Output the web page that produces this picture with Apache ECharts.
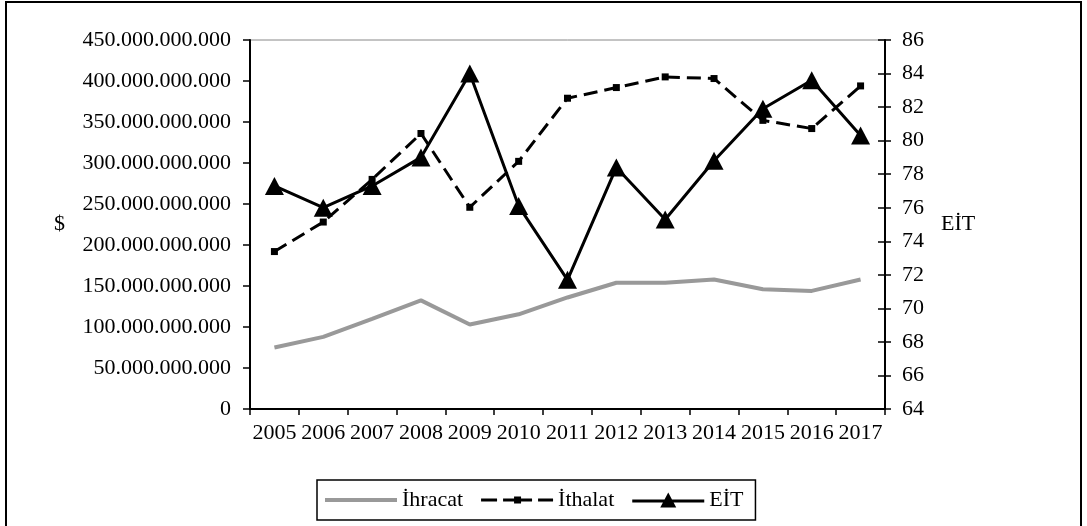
<!DOCTYPE html>
<html>
<head>
<meta charset="utf-8">
<title>İhracat, İthalat ve EİT</title>
<script src="https://cdn.jsdelivr.net/npm/echarts@6/dist/echarts.min.js"></script>
<style>
  html, body { margin: 0; padding: 0; background: #fff; }
  #chart { width: 1087px; height: 526px; }
</style>
</head>
<body>
<div id="chart"></div>
<script>
// values
const years = ['2005', '2006', '2007', '2008', '2009', '2010', '2011', '2012', '2013', '2014', '2015', '2016', '2017']
const ihracat = [75e9, 88e9, 110e9, 132.5e9, 103e9, 115.5e9, 136e9, 154e9, 154e9, 158e9, 146e9, 144e9, 158e9]
const ithalat = [192e9, 228e9, 280e9, 336e9, 246e9, 302e9, 379e9, 392e9, 405e9, 403e9, 352e9, 342e9, 394e9]
const eit = [77.3, 76.0, 77.3, 79.0, 84.0, 76.1, 71.7, 78.4, 75.3, 78.8, 81.9, 83.6, 80.3]

const font = "'Liberation Serif', 'Times New Roman', serif"

// 450000000000 -> 450.000.000.000
function dotted(v) {
  return String(Math.round(v)).replace(/\B(?=(\d{3})+(?!\d))/g, '.')
}

// legend keys drawn like the excel ones (line + small marker)
const iconPlain = 'path://M0,0 L72,0 L72,4 L0,4 Z'
const iconDash = 'path://M0,2 L16,2 L16,5 L0,5 Z M22,2 L33,2 L33,5 L22,5 Z M33,0 L40,0 L40,7 L33,7 Z ' +
  'M40,2 L51,2 L51,5 L40,5 Z M57,2 L72,2 L72,5 L57,5 Z'
const iconTri = 'path://M0,7 L72,7 L72,10 L0,10 Z M36,0 L44,15 L28,15 Z'

const chart = echarts.init(document.getElementById('chart'))
chart.setOption({
  animation: false,
  textStyle: { fontFamily: font, color: '#000' },
  graphic: [{
    type: 'rect',
    shape: { x: 6, y: 2, width: 1075, height: 530 },
    style: { fill: 'none', stroke: '#000', lineWidth: 2 },
    silent: true
  }],
  grid: {
    left: 250,
    right: 202,
    top: 40,
    bottom: 117,
    show: true,
    borderColor: '#888',
    borderWidth: 1
  },
  legend: {
    left: 317,
    top: 480,
    padding: [9, 12, 9, 8],
    borderColor: '#000',
    borderWidth: 1.5,
    itemWidth: 72,
    itemHeight: 18,
    itemGap: 18,
    symbolKeepAspect: true,
    itemStyle: { borderWidth: 0 },
    textStyle: { fontFamily: font, fontSize: 22, color: '#000' },
    data: [
      { name: 'İhracat', icon: iconPlain },
      { name: 'İthalat', icon: iconDash },
      { name: 'EİT', icon: iconTri }
    ]
  },
  xAxis: {
    type: 'category',
    data: years,
    boundaryGap: true,
    axisLine: { lineStyle: { color: '#000', width: 2 } },
    axisTick: { show: true, length: 6, lineStyle: { color: '#000', width: 1.5 } },
    axisLabel: { interval: 0, margin: 13, fontSize: 22, color: '#000', fontFamily: font },
    splitLine: { show: false }
  },
  yAxis: [{
    type: 'value',
    position: 'left',
    min: 0,
    max: 450e9,
    interval: 50e9,
    name: '$',
    nameLocation: 'middle',
    nameRotate: 0,
    nameGap: 185,
    nameTextStyle: { fontSize: 22, color: '#000', fontFamily: font },
    axisLine: { show: true, lineStyle: { color: '#000', width: 2 } },
    axisTick: { show: true, length: 7, lineStyle: { color: '#000', width: 1.5 } },
    axisLabel: { margin: 19, fontSize: 22, color: '#000', fontFamily: font, formatter: dotted },
    splitLine: { show: false }
  }, {
    type: 'value',
    position: 'right',
    min: 64,
    max: 86,
    interval: 2,
    name: 'EİT',
    nameLocation: 'middle',
    nameRotate: 0,
    nameGap: 56,
    nameTextStyle: { fontSize: 22, color: '#000', fontFamily: font, padding: [0, 0, 8, 0] },
    axisLine: { show: true, lineStyle: { color: '#000', width: 2 } },
    axisTick: { show: true, length: 6, lineStyle: { color: '#000', width: 1.5 } },
    axisLabel: { margin: 17, fontSize: 22, color: '#000', fontFamily: font },
    splitLine: { show: false }
  }, {
    // inner half of the crossing ticks on the right axis
    type: 'value',
    position: 'right',
    min: 64,
    max: 86,
    interval: 2,
    axisLine: { show: false },
    axisTick: { show: true, inside: true, length: 7, lineStyle: { color: '#000', width: 1.5 } },
    axisLabel: { show: false },
    splitLine: { show: false }
  }],
  series: [{
    name: 'İhracat',
    type: 'line',
    yAxisIndex: 0,
    data: ihracat,
    symbol: 'none',
    color: '#999',
    lineStyle: { color: '#999', width: 4 },
    z: 2
  }, {
    name: 'İthalat',
    type: 'line',
    yAxisIndex: 0,
    data: ithalat,
    symbol: 'rect',
    symbolSize: 7,
    color: '#000',
    itemStyle: { color: '#000' },
    lineStyle: { color: '#000', width: 3, type: [14, 7] },
    z: 3
  }, {
    name: 'EİT',
    type: 'line',
    yAxisIndex: 1,
    data: eit,
    symbol: 'triangle',
    symbolSize: [19, 18],
    color: '#000',
    itemStyle: { color: '#000' },
    lineStyle: { color: '#000', width: 3 },
    z: 4
  }]
})
</script>
</body>
</html>
